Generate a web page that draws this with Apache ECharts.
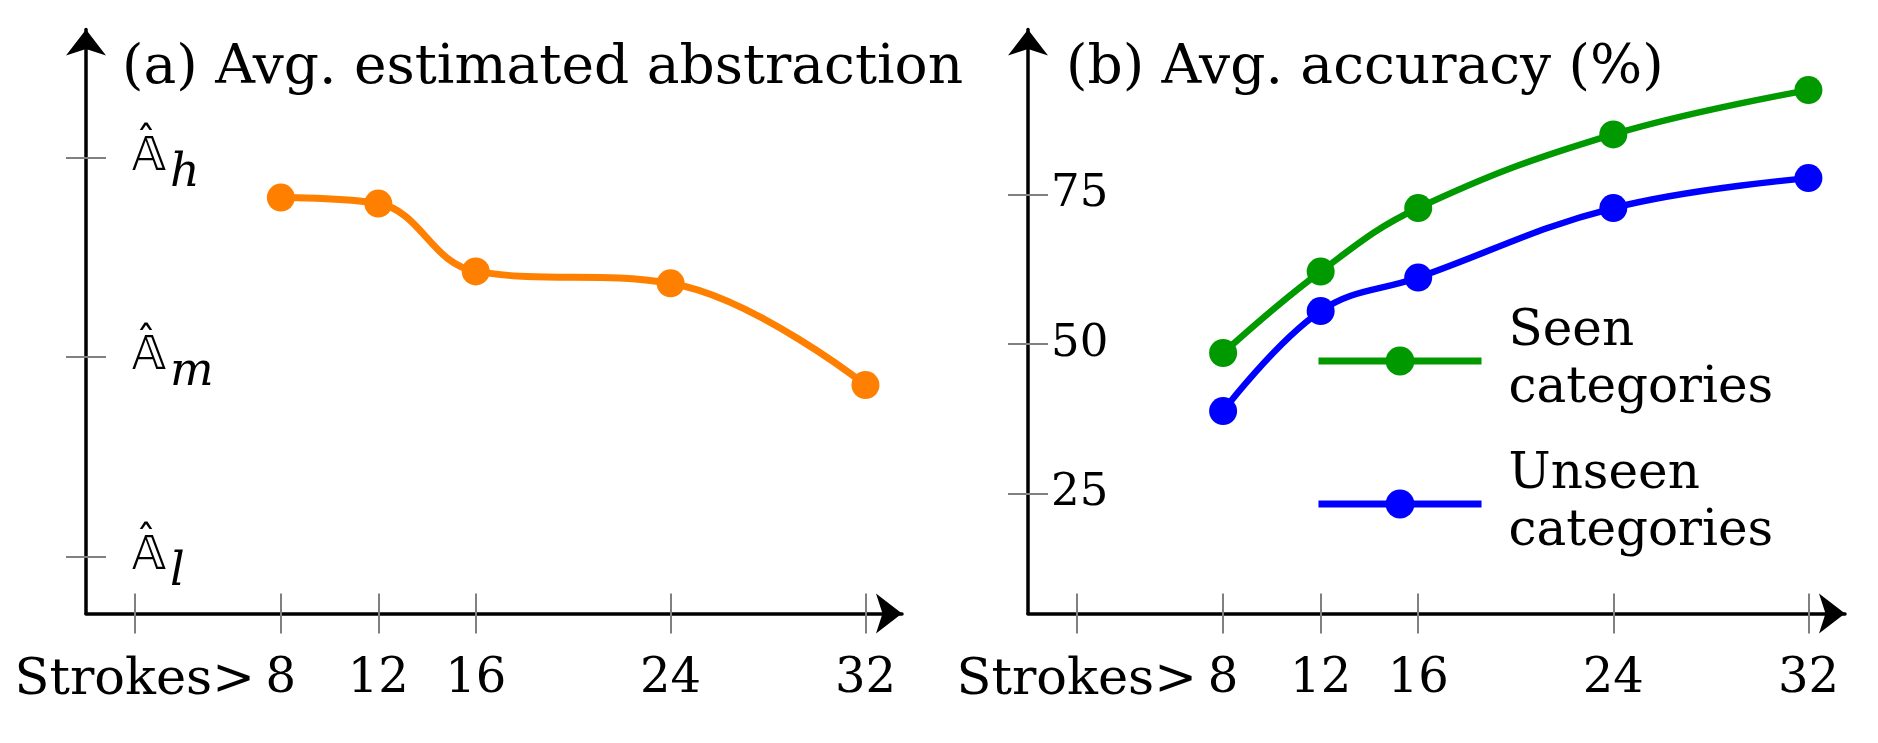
<!DOCTYPE html>
<html>
<head>
<meta charset="utf-8">
<script src="https://cdn.jsdelivr.net/npm/echarts@6/dist/echarts.min.js"></script>
<style>
html,body{margin:0;padding:0;background:#fff;}
#c{width:1878px;height:743px;}
</style>
</head>
<body>
<div id="c"></div>
<script>
// ---- data ----
const strokes = [8, 12, 16, 24, 32];
const abstraction = [1.80, 1.77, 1.43, 1.37, 0.86]; // scale: 0 = Âl, 1 = Âm, 2 = Âh
const seenAcc = [48.5, 62.1, 72.7, 85.0, 92.4];
const unseenAcc = [38.8, 55.5, 61.1, 72.7, 77.7];
const xTickValues = [2, 8, 12, 16, 24, 32];
const xTickLabels = ['Strokes>', '8', '12', '16', '24', '32'];
const absTickValues = [0, 1, 2];
const absTickLabels = ['l', 'm', 'h'];
const accTickValues = [25, 50, 75];
const titleA = '(a) Avg. estimated abstraction';
const titleB = '(b) Avg. accuracy (%)';
const seriesNames = ['Seen categories', 'Unseen categories'];

const SERIF = 'DejaVu Serif';
const tickStyle = {color: '#808080', width: 2};

function pairs(xs, ys) { return xs.map((x, i) => [x, ys[i]]); }

function xAxes(grid) {
  const base = {
    type: 'value', gridIndex: grid, position: 'bottom', min: 0, max: 33.5,
    splitLine: {show: false}
  };
  return [
    Object.assign({}, base, {
      axisLine: {show: true, onZero: false, symbol: ['none', 'arrow'], symbolSize: [30, 26],
                 lineStyle: {color: '#000', width: 3.5}},
      axisTick: {show: true, inside: false, length: 20, lineStyle: tickStyle, customValues: xTickValues},
      axisLabel: {show: true, margin: 42, color: '#000',
                  customValues: xTickValues,
                  formatter: v => {
                    const i = xTickValues.indexOf(v);
                    return (i === 0 ? '{w|' : '{d|') + xTickLabels[i] + '}';
                  },
                  rich: {
                    w: {fontFamily: SERIF, fontSize: 51, color: '#000'},
                    d: {fontFamily: SERIF, fontSize: 48, color: '#000'}
                  }}
    }),
    Object.assign({}, base, {
      axisLine: {show: false, onZero: false},
      axisTick: {show: true, inside: true, length: 20, lineStyle: tickStyle, customValues: xTickValues},
      axisLabel: {show: false}
    })
  ];
}

function yAxes(grid, min, max, ticks, label, label2) {
  const base = {type: 'value', gridIndex: grid, position: 'left', min: min, max: max, splitLine: {show: false}};
  return [
    Object.assign({}, base, {
      axisLine: {show: true, onZero: false, symbol: ['none', 'arrow'], symbolSize: [30, 26],
                 lineStyle: {color: '#000', width: 3.5}},
      axisTick: {show: true, inside: false, length: 20, lineStyle: tickStyle, customValues: ticks},
      axisLabel: Object.assign({show: true, inside: true, customValues: ticks, color: '#000'}, label)
    }),
    Object.assign({}, base, {
      axisLine: {show: false, onZero: false},
      axisTick: {show: true, inside: true, length: 20, lineStyle: tickStyle, customValues: ticks},
      axisLabel: label2 ? Object.assign({show: true, inside: true, customValues: ticks, color: '#000'}, label2)
                        : {show: false}
    })
  ];
}

// Â_x labels: double-struck A with subscript, hat drawn by the companion axis label
const absLabel = {
  margin: 46,
  formatter: v => '{A|\uD835\uDD38}{s|' + absTickLabels[absTickValues.indexOf(v)] + '}',
  rich: {
    A: {fontFamily: 'DejaVu Sans', fontSize: 46, color: '#000'},
    s: {fontFamily: SERIF, fontStyle: 'italic', fontSize: 46, color: '#000', padding: [32, 0, 0, 4]}
  }
};
const absHat = {
  margin: 50,
  formatter: () => '{h|\u02C6}',
  rich: {h: {fontFamily: 'DejaVu Sans', fontSize: 40, color: '#000', padding: [0, 0, 26, 0]}}
};
const accLabel = {margin: 23, fontFamily: SERIF, fontSize: 45, formatter: v => String(v)};

const chart = echarts.init(document.getElementById('c'), null, {renderer: 'canvas'});
chart.setOption({
  animation: false,
  backgroundColor: '#fff',
  title: [
    {text: titleA, left: 122, top: 41, padding: 0,
     textStyle: {fontFamily: SERIF, fontWeight: 'normal', fontSize: 55, color: '#000'}},
    {text: titleB, left: 1066, top: 41, padding: 0,
     textStyle: {fontFamily: SERIF, fontWeight: 'normal', fontSize: 55, color: '#000'}}
  ],
  grid: [
    {left: 86, top: 29.6, width: 816, bottom: 129.5, containLabel: false},
    {left: 1028, top: 29.6, width: 817, bottom: 129.5, containLabel: false}
  ],
  legend: {
    data: seriesNames, orient: 'vertical', left: 1315, top: 304, padding: 0,
    itemWidth: 163, itemHeight: 36, itemGap: 29,
    lineStyle: {width: 7},
    formatter: n => n.replace(' ', '\n'),
    textStyle: {fontFamily: SERIF, fontSize: 50, lineHeight: 57, color: '#000', padding: [0, 0, 0, 22]}
  },
  xAxis: [].concat(xAxes(0), xAxes(1)),
  yAxis: [].concat(
    yAxes(0, -0.285, 2.642, absTickValues, absLabel, absHat),
    yAxes(1, 5, 102.5, accTickValues, accLabel, null)
  ),
  series: [
    {type: 'line', name: 'abstraction', xAxisIndex: 0, yAxisIndex: 0, data: pairs(strokes, abstraction),
     smooth: 0.4, symbol: 'circle', symbolSize: 28, color: '#FF8000',
     lineStyle: {width: 7, color: '#FF8000'}, itemStyle: {color: '#FF8000'}},
    {type: 'line', name: seriesNames[0], xAxisIndex: 2, yAxisIndex: 2, data: pairs(strokes, seenAcc),
     smooth: 0.4, symbol: 'circle', symbolSize: 28, color: '#009900',
     lineStyle: {width: 6.5, color: '#009900'}, itemStyle: {color: '#009900'}},
    {type: 'line', name: seriesNames[1], xAxisIndex: 2, yAxisIndex: 2, data: pairs(strokes, unseenAcc),
     smooth: 0.4, symbol: 'circle', symbolSize: 28, color: '#0000FF',
     lineStyle: {width: 6.5, color: '#0000FF'}, itemStyle: {color: '#0000FF'}}
  ]
});
</script>
</body>
</html>
